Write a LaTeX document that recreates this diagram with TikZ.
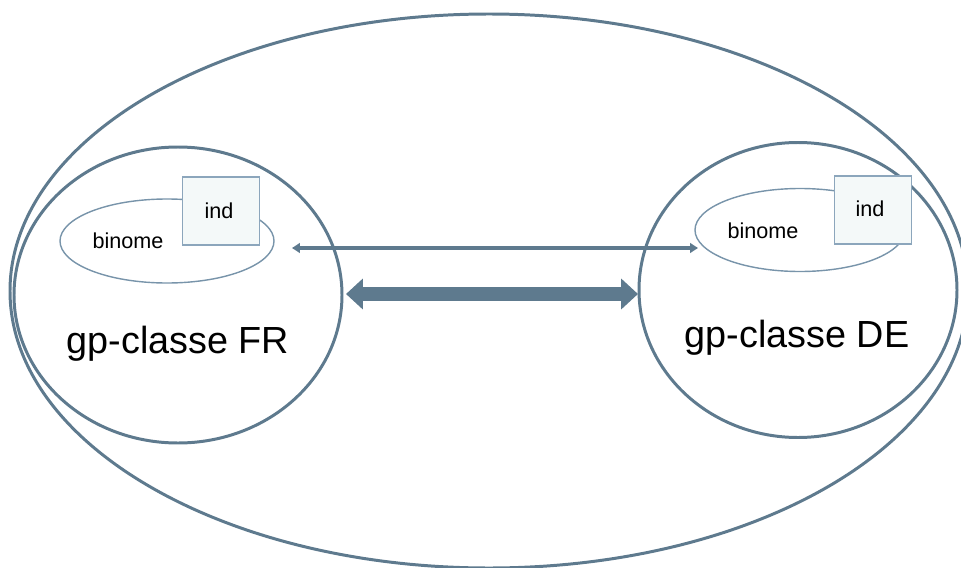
\documentclass[tikz,border=0pt]{standalone}
\usepackage{fontspec}
\setmainfont{Liberation Sans}
\usetikzlibrary{shapes.geometric,arrows.meta}
\definecolor{stroke}{RGB}{94,122,142}
\definecolor{thin}{RGB}{120,148,170}
\definecolor{boxline}{RGB}{140,166,188}
\definecolor{boxfill}{RGB}{244,249,249}
\tikzset{
  px/.style={x=0.02cm,y=-0.02cm},
  bigell/.style={draw=stroke,line width=1.7pt,ellipse,inner sep=0pt},
  binell/.style={draw=thin,line width=0.8pt,ellipse,inner sep=0pt,fill=white},
  indbox/.style={draw=boxline,line width=0.8pt,fill=boxfill,rectangle,inner sep=0pt,minimum width=77*0.02cm,minimum height=68*0.02cm},
  bigtext/.style={font=\fontsize{21.5pt}{26pt}\selectfont,inner sep=0pt,anchor=base},
  smalltext/.style={font=\fontsize{12.3pt}{15pt}\selectfont,inner sep=0pt},
  thinarrow/.style={draw=stroke,line width=2pt,{Triangle[length=4.5pt,width=5.5pt]}-{Triangle[length=4.5pt,width=5.5pt]}},
  thickarrow/.style={draw=stroke,line width=8.5pt,{Triangle[length=9.6pt,width=17pt]}-{Triangle[length=9.6pt,width=17pt]}}
}
\begin{document}
\begin{tikzpicture}[px]
\useasboundingbox (0,0) rectangle (961,568);
\clip (0,0) rectangle (961,568);
% outer ellipse
\node[bigell,minimum width=958*0.02cm,minimum height=554*0.02cm] (outer) at (489,291) {};
% group ellipses
\node[bigell,minimum width=328*0.02cm,minimum height=296*0.02cm] (fr) at (178,295) {};
\node[bigell,minimum width=318*0.02cm,minimum height=295*0.02cm] (de) at (798,290) {};
% binome ellipses
\node[binell,minimum width=214*0.02cm,minimum height=84*0.02cm] (binfr) at (167,241) {};
\node[binell,minimum width=210*0.02cm,minimum height=83*0.02cm] (binde) at (800,230) {};
% ind boxes
\node[indbox] (indfr) at (221,211) {};
\node[indbox] (indde) at (873,210) {};
% texts
\node[smalltext] (tbinfr) at (128,241) {binome};
\node[smalltext] (tbinde) at (763,231) {binome};
\node[smalltext] (tindfr) at (219,211) {ind};
\node[smalltext] (tindde) at (870,209) {ind};
\node[bigtext] (tfr) at (178,353) {gp-classe FR};
\node[bigtext] (tde) at (797,347) {gp-classe DE};
% connectors
\coordinate (ta) at (292,248);
\coordinate (tb) at (698,248);
\draw[thinarrow] (ta) -- (tb);
\coordinate (ka) at (346,294);
\coordinate (kb) at (638,294);
\draw[thickarrow] (ka) -- (kb);
\end{tikzpicture}
\end{document}
